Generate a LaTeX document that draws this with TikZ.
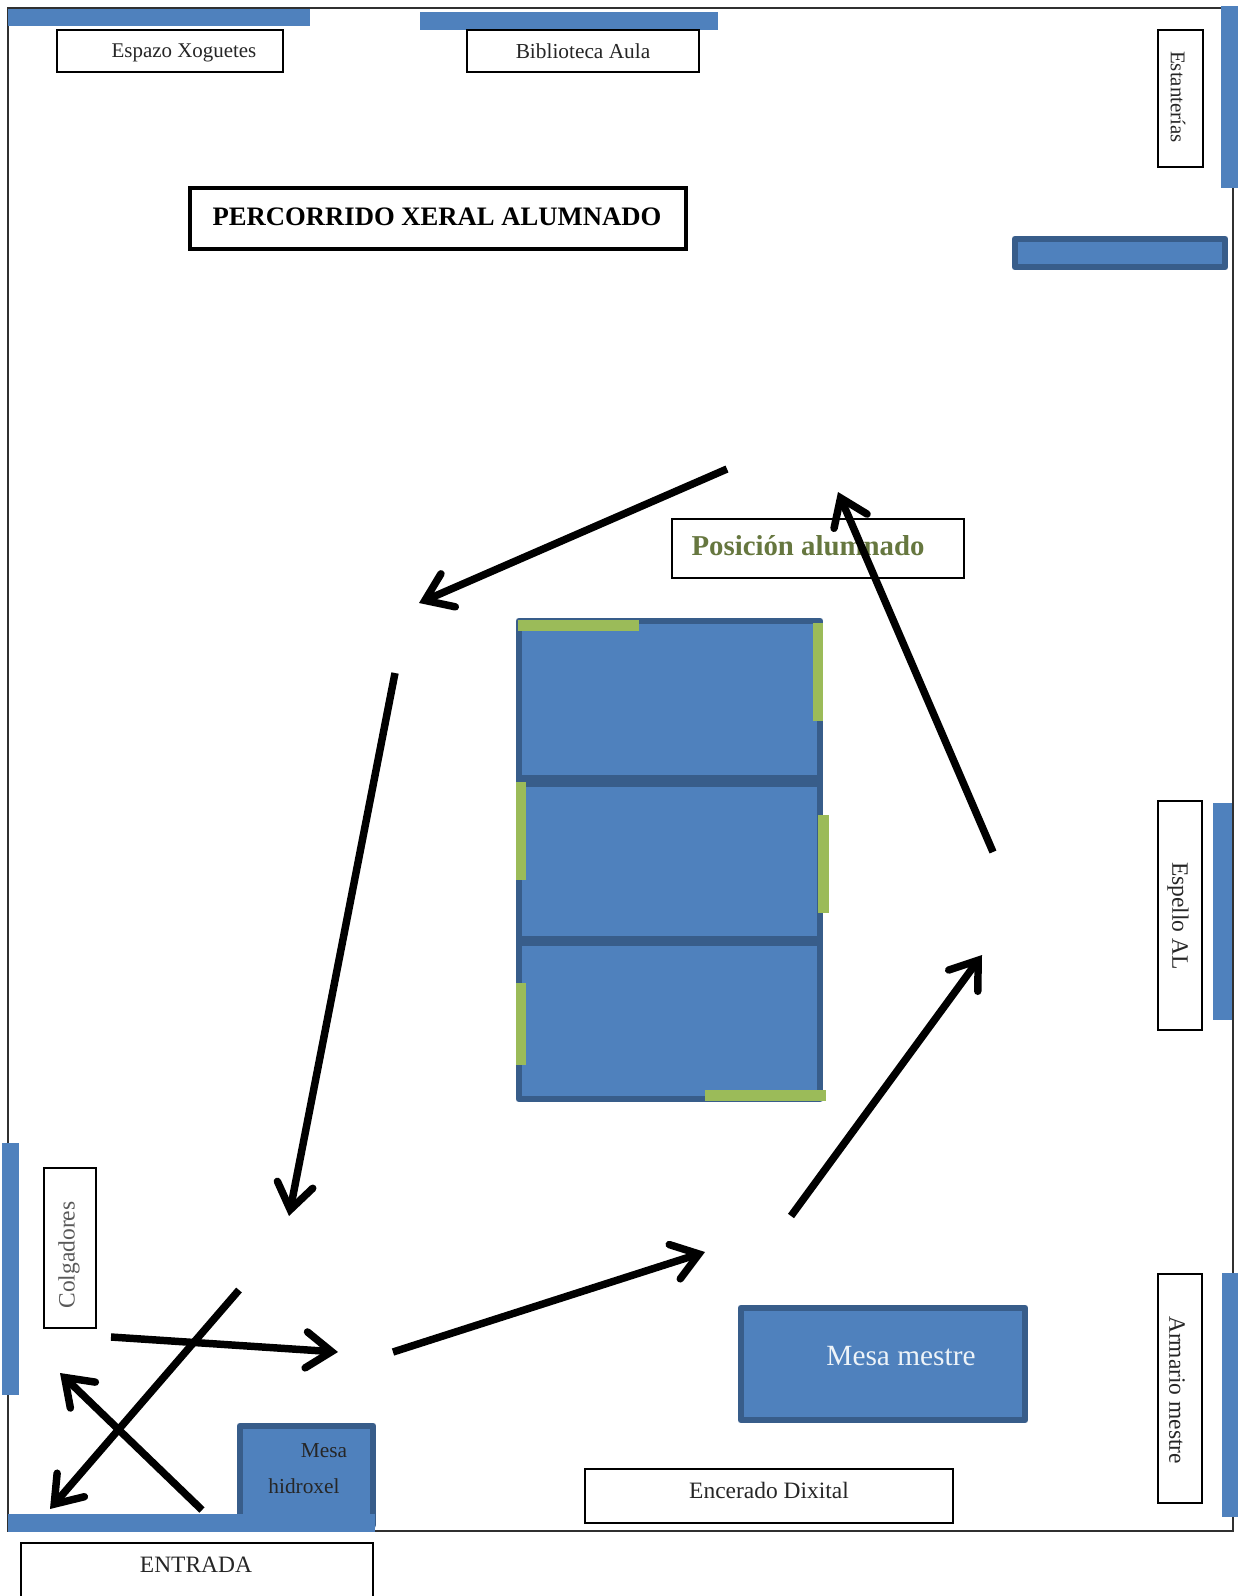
\documentclass[tikz,border=0pt]{standalone}
\usepackage{fontspec}
\setmainfont{Liberation Serif}
\usetikzlibrary{arrows.meta}
\definecolor{barblue}{HTML}{4F81BD}
\definecolor{edgeblue}{HTML}{385D8A}
\definecolor{seatgreen}{HTML}{9BBB59}
\definecolor{wallgrey}{HTML}{303030}
\definecolor{posolive}{HTML}{66773F}
\tikzset{
  wall/.style={draw=wallgrey,line width=1.6pt},
  bar/.style={fill=barblue},
  furn/.style={fill=barblue,draw=edgeblue,line width=5pt,line join=round},
  divider/.style={draw=edgeblue},
  seat/.style={fill=seatgreen},
  labelbox/.style={draw=black,fill=white,line width=1.4pt},
  titlebox/.style={draw=black,fill=white,line width=3pt},
  lbl/.style={inner sep=0pt,font=\fontsize{16}{18}\selectfont,text=black!85},
  lblb/.style={inner sep=0pt,font=\fontsize{17.6}{20}\selectfont,text=black!85},
  route/.style={draw=black,line width=5.6pt,-{Straight Barb[length=19pt,width=27pt,line cap=round,line join=miter]}},
}
\begin{document}
\begin{tikzpicture}[x=0.75pt,y=-0.75pt]
\useasboundingbox (0,0) rectangle (1238,1596);
\fill[white] (0,0) rectangle (1238,1596);
% room
\draw[wall] (8,8) -- (1233,8) -- (1233,1531) -- (8,1531) -- cycle;
% wall bars
\fill[bar] (8,9) rectangle (310,26);
\fill[bar] (420,12) rectangle (718,30);
\fill[bar] (1221,6) rectangle (1238,188);
\fill[bar] (1213,803) rectangle (1232,1020);
\fill[bar] (1222,1273) rectangle (1238,1517);
\fill[bar] (2,1143) rectangle (19,1395);
% shelf
\path[furn] (1015,239) rectangle (1225,267);
% hand gel table, sits on entrance bar
\path[furn] (240,1426) rectangle (373,1525);
\fill[bar] (8,1514) rectangle (375,1532);
% teacher desk
\path[furn] (741,1308) rectangle (1025,1420);
% pupils table
\path[furn] (519,621) rectangle (820,1099);
\draw[divider,line width=9pt] (519,781) -- (820,781);
\draw[divider,line width=7.5pt] (519,941) -- (820,941);
\fill[seat] (518,620) rectangle (639,631);
\fill[seat] (813,623) rectangle (823,721);
\fill[seat] (516,782) rectangle (526,880);
\fill[seat] (818,815) rectangle (829,913);
\fill[seat] (516,983) rectangle (526,1065);
\fill[seat] (705,1090) rectangle (826,1101);
% label boxes
\path[labelbox] (57,30) rectangle (283,72);
\path[labelbox] (467,30) rectangle (699,72);
\path[labelbox] (1158,30) rectangle (1203,167);
\path[titlebox] (190,188) rectangle (686,249);
\path[labelbox] (672,519) rectangle (964,578);
\path[labelbox] (1158,801) rectangle (1202,1030);
\path[labelbox] (1158,1274) rectangle (1202,1503);
\path[labelbox] (44,1168) rectangle (96,1328);
\path[labelbox] (585,1469) rectangle (953,1523);
\path[labelbox] (21,1543) rectangle (373,1600);
% texts
\node[lbl,font=\fontsize{15.7}{18}\selectfont] (xoguetes) at (184,53) {Espazo Xoguetes};
\node[lbl] (biblioteca) at (583,51) {Biblioteca Aula};
\node[lbl,font=\fontsize{15.7}{18}\selectfont,rotate=-90] (estanterias) at (1178,97) {Estanterías};
\node[inner sep=0pt,font=\bfseries\fontsize{20}{22}\selectfont] (titulo) at (437,217) {PERCORRIDO XERAL ALUMNADO};
\node[inner sep=0pt,text=posolive,font=\bfseries\fontsize{21.6}{24}\selectfont] (posicion) at (808,546) {Posición alumnado};
\node[lblb,rotate=-90] (espello) at (1178,916) {Espello AL};
\node[lblb,rotate=-90] (armario) at (1177,1390) {Armario mestre};
\node[lblb,text=black!65,rotate=90] (colgadores) at (69,1255) {Colgadores};
\node[lblb] (entrada) at (196,1565) {ENTRADA};
\node[lblb] (encerado) at (769,1490) {Encerado Dixital};
\node[inner sep=0pt,text=white!90!barblue,font=\fontsize{22}{24}\selectfont] (mestre) at (901,1356) {Mesa mestre};
\node[lbl] (mesa) at (324,1451) {Mesa};
\node[lbl] (hidroxel) at (304,1486) {hidroxel};
% route
\coordinate (a1) at (111,1337); \coordinate (a2) at (338,1352);
\coordinate (b1) at (393,1352); \coordinate (b2) at (705,1252);
\coordinate (c1) at (791,1216); \coordinate (c2) at (982,955);
\coordinate (d1) at (993,852);  \coordinate (d2) at (838,492);
\coordinate (e1) at (727,469);  \coordinate (e2) at (419,603);
\coordinate (f1) at (395,673);  \coordinate (f2) at (289,1216);
\coordinate (g1) at (239,1290); \coordinate (g2) at (50,1509);
\coordinate (h1) at (202,1510); \coordinate (h2) at (60,1373);
\foreach \s/\t in {a1/a2,b1/b2,c1/c2,d1/d2,e1/e2,f1/f2,g1/g2,h1/h2}
  \draw[route] (\s) -- (\t);
\end{tikzpicture}
\end{document}
